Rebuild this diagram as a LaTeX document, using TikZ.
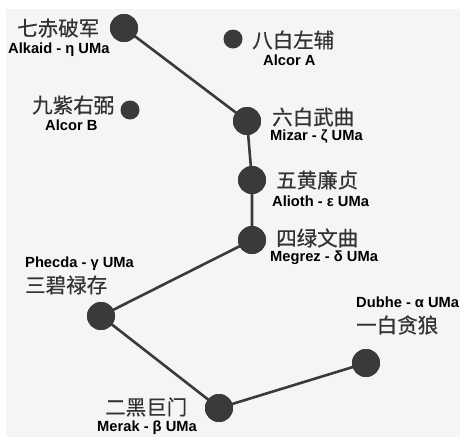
\documentclass[tikz,border=0pt]{standalone}
\usepackage{fontspec}
\setmainfont{Liberation Sans}
\newfontfamily\cjk[FakeBold=0.6]{Noto Sans CJK SC}
\definecolor{bgc}{HTML}{F5F5F5}
\definecolor{starc}{HTML}{3A3A3A}
\definecolor{cnc}{HTML}{333333}
\begin{document}
\begin{tikzpicture}[x=1pt,y=-1pt,
  star/.style={circle,fill=starc,inner sep=0pt,minimum size=28pt},
  smallstar/.style={circle,fill=starc,inner sep=0pt,minimum size=19pt},
  cn/.style={font=\cjk\fontsize{20.5}{21}\selectfont,text=cnc,inner sep=0pt,anchor=west},
  en/.style={font=\bfseries\fontsize{14.7}{15}\selectfont,text=black,inner sep=0pt,anchor=west},
  link/.style={draw=starc,line width=2.6pt}]
\useasboundingbox (0,0) rectangle (460,437);
\fill[white] (0,0) rectangle (460,437);
\fill[bgc] (6,9) rectangle (460,437);
% stars
\node[star] (alkaid) at (124,28) {};
\node[smallstar] (alcora) at (233,39) {};
\node[smallstar] (alcorb) at (130,110) {};
\node[star] (mizar) at (247,121) {};
\node[star] (alioth) at (252,180) {};
\node[star] (megrez) at (252,240) {};
\node[star] (phecda) at (101,316) {};
\node[star] (merak) at (219,408) {};
\node[star] (dubhe) at (366,363) {};
% links
\draw[link] (alkaid.center) -- (mizar.center) -- (alioth.center) -- (megrez.center) -- (phecda.center) -- (merak.center) -- (dubhe.center);
\foreach \n in {alkaid,mizar,alioth,megrez,phecda,merak,dubhe}{\fill[starc] (\n) circle (14pt);}
% labels
\node[cn] (t1) at (17,28) {七赤破军};
\node[en] (e1) at (8,50) {Alkaid - η UMa};
\node[cn] (t9) at (32,105) {九紫右弼};
\node[en] (e9) at (45,125) {Alcor B};
\node[cn] (t8) at (252,40) {八白左辅};
\node[en] (e8) at (263,60) {Alcor A};
\node[cn] (t6) at (272,117) {六白武曲};
\node[en] (e6) at (270,137) {Mizar - ζ UMa};
\node[cn] (t5) at (276,180) {五黄廉贞};
\node[en] (e5) at (272,201) {Alioth - ε UMa};
\node[cn] (t4) at (276,238) {四绿文曲};
\node[en] (e4) at (270,258) {Megrez - δ UMa};
\node[en] (e3) at (25,264) {Phecda - γ UMa};
\node[cn] (t3) at (25,285) {三碧禄存};
\node[cn] (t2) at (105,407) {二黑巨门};
\node[en] (e2) at (97,428) {Merak - β UMa};
\node[en] (e1b) at (356,302) {Dubhe - α UMa};
\node[cn] (t1b) at (356,325) {一白贪狼};
\end{tikzpicture}
\end{document}
